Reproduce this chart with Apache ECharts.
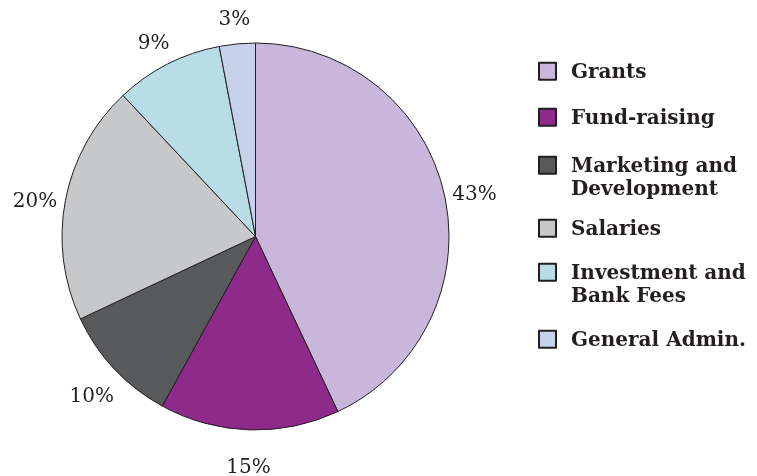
<!DOCTYPE html>
<html>
<head>
<meta charset="utf-8">
<script src="https://cdn.jsdelivr.net/npm/echarts@6/dist/echarts.min.js"></script>
<style>html,body{margin:0;padding:0;background:#fff;}#c{width:757px;height:476px;}</style>
</head>
<body>
<div id="c"></div>
<script>
const categories = ['Grants', 'Fund-raising', 'Marketing and\nDevelopment', 'Salaries', 'Investment and\nBank Fees', 'General Admin.'];
const values = [43, 15, 10, 20, 9, 3];
const colors = ['#c8b7da', '#8e2a89', '#58595b', '#c7c8ca', '#b8dde7', '#c5d2ea'];

const textColor = '#231f20';
const cx = 255.5, cy = 236.5, R = 193.5;
const lineH = 23.5;
const iconCenters = [71, 117, 165, 228, 272, 339];

const data = categories.map((n, i) => ({ name: n, value: values[i], itemStyle: { color: colors[i] } }));
const labelData = categories.map((n, i) => ({ name: n, value: values[i] }));

const legends = categories.map((n, i) => {
  const lines = n.split('\n').length;
  const padTop = (lines - 1) * lineH;
  return {
    data: [n],
    orient: 'vertical',
    left: 538,
    top: iconCenters[i] - 9.25,
    padding: 0,
    itemWidth: 17,
    itemHeight: 17,
    icon: 'rect',
    selectedMode: false,
    formatter: function (name) {
      return name.split('\n').map(l => '{t|' + l + '}').join('\n');
    },
    textStyle: {
      padding: [padTop + 3, 0, 0, 10],
      rich: {
        t: {
          fontFamily: 'DejaVu Serif',
          fontWeight: 'bold',
          fontSize: 20,
          color: textColor,
          lineHeight: lineH
        }
      }
    }
  };
});

const chart = echarts.init(document.getElementById('c'), null, { renderer: 'canvas' });
chart.setOption({
  animation: false,
  backgroundColor: '#fff',
  legend: legends,
  series: [
    {
      type: 'pie',
      center: [cx, cy],
      radius: [0, R],
      startAngle: 90,
      clockwise: true,
      silent: true,
      label: { show: false },
      labelLine: { show: false },
      itemStyle: { borderColor: '#231f20', borderWidth: 1 },
      data: data
    },
    {
      type: 'pie',
      center: [cx, cy + 7],
      radius: [R + 6, R + 50],
      startAngle: 90,
      clockwise: true,
      silent: true,
      itemStyle: { color: 'rgba(0,0,0,0)', borderWidth: 0 },
      labelLine: { show: false },
      label: {
        show: true,
        position: 'inside',
        formatter: '{c}%',
        fontFamily: 'DejaVu Serif',
        fontSize: 20,
        color: textColor
      },
      data: labelData
    }
  ]
});
</script>
</body>
</html>
